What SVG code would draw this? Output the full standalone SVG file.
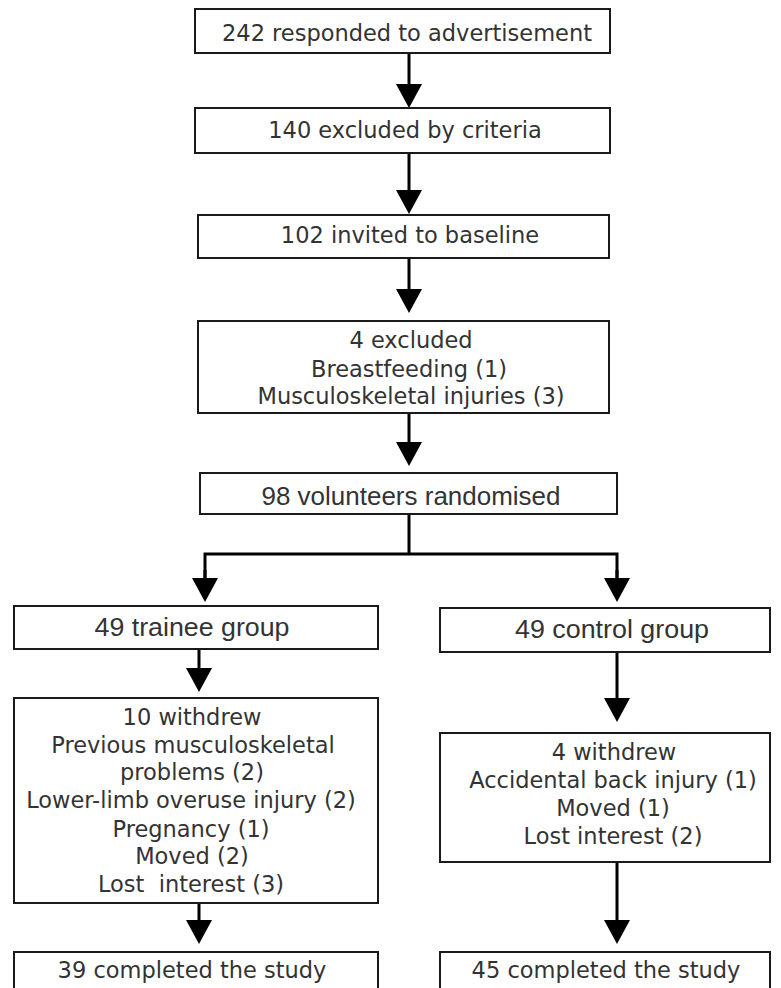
<svg xmlns="http://www.w3.org/2000/svg" width="781" height="988" viewBox="0 0 781 988">
<style>
.box{fill:#fff;stroke:#1a1a1a;stroke-width:2}
.t{font-family:"DejaVu Sans",sans-serif;font-size:22.5px;fill:#333;text-anchor:middle}
.c{font-family:"Liberation Sans",Arial,sans-serif;font-size:25px;fill:#333;text-anchor:middle}
.ln{stroke:#000;stroke-width:3;fill:none}
</style>
<defs>
<marker id="ah" markerUnits="userSpaceOnUse" markerWidth="24" markerHeight="26" viewBox="0 0 24 26" refX="0" refY="13" orient="auto">
<path d="M0,0 L24,13 L0,26 z" fill="#000"/>
</marker>
</defs>
<rect width="781" height="988" fill="#fff"/>
<g id="connectors">
<line class="ln" x1="409" y1="53" x2="409" y2="84" marker-end="url(#ah)"/>
<line class="ln" x1="409" y1="153" x2="409" y2="190" marker-end="url(#ah)"/>
<line class="ln" x1="409" y1="258" x2="409" y2="289" marker-end="url(#ah)"/>
<line class="ln" x1="409" y1="413" x2="409" y2="442" marker-end="url(#ah)"/>
<polyline class="ln" points="409,514 409,554"/>
<polyline class="ln" points="205,578 205,554 617,554 617,578" marker-start="none"/>
<line class="ln" x1="205" y1="570" x2="205" y2="578" marker-end="url(#ah)"/>
<line class="ln" x1="617" y1="570" x2="617" y2="578" marker-end="url(#ah)"/>
<line class="ln" x1="199" y1="649" x2="199" y2="668" marker-end="url(#ah)"/>
<line class="ln" x1="199" y1="903" x2="199" y2="920" marker-end="url(#ah)"/>
<line class="ln" x1="617" y1="652" x2="617" y2="698" marker-end="url(#ah)"/>
<line class="ln" x1="617" y1="862" x2="617" y2="920" marker-end="url(#ah)"/>
</g>
<g id="n1"><rect class="box" x="195" y="9" width="415" height="44"/><text class="t" x="407" y="41">242 responded to advertisement</text></g>
<g id="n2"><rect class="box" x="195" y="108" width="415" height="45"/><text class="t" x="405" y="138">140 excluded by criteria</text></g>
<g id="n3"><rect class="box" x="198" y="215" width="411" height="43"/><text class="t" x="410" y="243">102 invited to baseline</text></g>
<g id="n4"><rect class="box" x="198" y="321" width="411" height="92"/>
<text class="t" x="411" y="348">4 excluded</text>
<text class="t" x="409" y="377">Breastfeeding (1)</text>
<text class="t" x="411" y="404">Musculoskeletal injuries (3)</text></g>
<g id="n5"><rect class="box" x="200" y="473" width="417" height="41"/><text class="c" x="411" y="505" textLength="299" lengthAdjust="spacingAndGlyphs">98 volunteers randomised</text></g>
<g id="n6"><rect class="box" x="14" y="606" width="364" height="43"/><text class="c" x="192" y="636" textLength="195" lengthAdjust="spacingAndGlyphs">49 trainee group</text></g>
<g id="n7"><rect class="box" x="440" y="608" width="330" height="44"/><text class="c" x="612" y="638" textLength="194" lengthAdjust="spacingAndGlyphs">49 control group</text></g>
<g id="n8"><rect class="box" x="14" y="698" width="364" height="205"/>
<text class="t" x="192" y="725">10 withdrew</text>
<text class="t" x="193" y="753">Previous musculoskeletal</text>
<text class="t" x="192" y="780">problems (2)</text>
<text class="t" x="191" y="808">Lower-limb overuse injury (2)</text>
<text class="t" x="191" y="837">Pregnancy (1)</text>
<text class="t" x="192" y="864">Moved (2)</text>
<text class="t" x="191" y="892" xml:space="preserve">Lost  interest (3)</text></g>
<g id="n9"><rect class="box" x="440" y="733" width="330" height="129"/>
<text class="t" x="614" y="760">4 withdrew</text>
<text class="t" x="613" y="788">Accidental back injury (1)</text>
<text class="t" x="613" y="816">Moved (1)</text>
<text class="t" x="613" y="844">Lost interest (2)</text></g>
<g id="n10"><rect class="box" x="14" y="952" width="364" height="60"/><text class="t" x="192" y="978">39 completed the study</text></g>
<g id="n11"><rect class="box" x="440" y="952" width="330" height="60"/><text class="t" x="606" y="978">45 completed the study</text></g>
</svg>
